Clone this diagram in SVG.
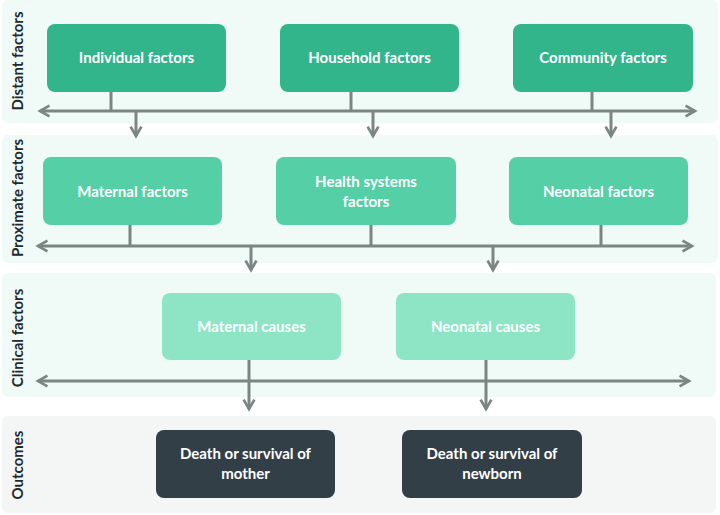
<svg xmlns="http://www.w3.org/2000/svg" width="720" height="515" viewBox="0 0 720 515">
<style>
.band{fill:#f0faf7}
.band.out{fill:#f4f5f5}
.lbl{font-family:Lato,"Liberation Sans",sans-serif;font-weight:bold;font-size:15px;fill:#1f2a2e;text-anchor:middle}
.box text{font-family:Lato,"Liberation Sans",sans-serif;font-weight:bold;font-size:15px;fill:#ffffff;text-anchor:middle}
.d rect{fill:#33b58c}
.p rect{fill:#55cfa5}
.c rect{fill:#8de5c5}
.o rect{fill:#333f46}
.ln{stroke:#7a8584;stroke-width:3;fill:none}
</style>
<defs>
<marker id="ah" viewBox="0 0 10 10" refX="8" refY="5" markerWidth="4.5" markerHeight="4.5" orient="auto-start-reverse" markerUnits="strokeWidth">
<path d="M1,1 L8,5 L1,9" fill="none" stroke="#7a8584" stroke-width="2"/>
</marker>
</defs>
<rect width="720" height="515" fill="#ffffff"/>
<g id="bands">
<rect class="band" x="2" y="0" width="716" height="123" rx="6"/>
<rect class="band" x="2" y="135" width="716" height="128" rx="6"/>
<rect class="band" x="2" y="273" width="714" height="124" rx="6"/>
<rect class="band out" x="2" y="416" width="714" height="97" rx="6"/>
</g>
<g id="labels">
<text class="lbl" transform="translate(23,61) rotate(-90)">Distant factors</text>
<text class="lbl" transform="translate(23,198) rotate(-90)">Proximate factors</text>
<text class="lbl" transform="translate(23,338) rotate(-90)">Clinical factors</text>
<text class="lbl" transform="translate(23,465) rotate(-90)">Outcomes</text>
</g>
<g id="connectors">
<line class="ln" x1="111" y1="92" x2="111" y2="111"/>
<line class="ln" x1="351" y1="92" x2="351" y2="111"/>
<line class="ln" x1="592" y1="92" x2="592" y2="111"/>
<line class="ln" x1="40" y1="111" x2="695" y2="111" marker-start="url(#ah)" marker-end="url(#ah)"/>
<line class="ln" x1="136" y1="111" x2="136" y2="136" marker-end="url(#ah)"/>
<line class="ln" x1="373" y1="111" x2="373" y2="136" marker-end="url(#ah)"/>
<line class="ln" x1="611" y1="111" x2="611" y2="136" marker-end="url(#ah)"/>

<line class="ln" x1="130" y1="225" x2="130" y2="246"/>
<line class="ln" x1="371" y1="225" x2="371" y2="246"/>
<line class="ln" x1="601" y1="225" x2="601" y2="246"/>
<line class="ln" x1="38" y1="246" x2="692" y2="246" marker-start="url(#ah)" marker-end="url(#ah)"/>
<line class="ln" x1="251" y1="246" x2="251" y2="270" marker-end="url(#ah)"/>
<line class="ln" x1="493" y1="246" x2="493" y2="270" marker-end="url(#ah)"/>

<line class="ln" x1="38" y1="381" x2="689" y2="381" marker-start="url(#ah)" marker-end="url(#ah)"/>
<line class="ln" x1="249" y1="360" x2="249" y2="409" marker-end="url(#ah)"/>
<line class="ln" x1="486" y1="360" x2="486" y2="409" marker-end="url(#ah)"/>
</g>
<g id="individual" class="box d"><rect x="47" y="24" width="179" height="68" rx="8"/><text x="136.5" y="63">Individual factors</text></g>
<g id="household" class="box d"><rect x="280" y="24" width="179" height="68" rx="8"/><text x="369.5" y="63">Household factors</text></g>
<g id="community" class="box d"><rect x="513" y="24" width="180" height="68" rx="8"/><text x="603" y="63">Community factors</text></g>
<g id="maternal-factors" class="box p"><rect x="43" y="157" width="179" height="68" rx="8"/><text x="132.5" y="196.5">Maternal factors</text></g>
<g id="health-systems" class="box p"><rect x="276" y="157" width="180" height="68" rx="8"/><text x="366" y="186.5">Health systems</text><text x="366" y="207">factors</text></g>
<g id="neonatal-factors" class="box p"><rect x="509" y="157" width="179" height="68" rx="8"/><text x="598.5" y="196.5">Neonatal factors</text></g>
<g id="maternal-causes" class="box c"><rect x="162" y="293" width="179" height="67" rx="8"/><text x="251.5" y="331.5">Maternal causes</text></g>
<g id="neonatal-causes" class="box c"><rect x="396" y="293" width="179" height="67" rx="8"/><text x="485.5" y="331.5">Neonatal causes</text></g>
<g id="mother" class="box o"><rect x="156" y="430" width="179" height="68" rx="8"/><text x="245.5" y="458.5">Death or survival of</text><text x="245.5" y="479">mother</text></g>
<g id="newborn" class="box o"><rect x="402" y="430" width="180" height="68" rx="8"/><text x="492" y="458.5">Death or survival of</text><text x="492" y="479">newborn</text></g>
</svg>
